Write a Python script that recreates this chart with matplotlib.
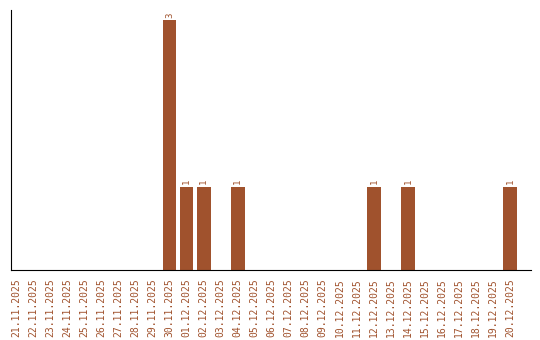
import matplotlib
matplotlib.use('Agg')
import matplotlib.pyplot as plt
import numpy as np

# Daily counts, 21.11.2025 .. 20.12.2025
dates = ['21.11.2025', '22.11.2025', '23.11.2025', '24.11.2025', '25.11.2025',
         '26.11.2025', '27.11.2025', '28.11.2025', '29.11.2025', '30.11.2025',
         '01.12.2025', '02.12.2025', '03.12.2025', '04.12.2025', '05.12.2025',
         '06.12.2025', '07.12.2025', '08.12.2025', '09.12.2025', '10.12.2025',
         '11.12.2025', '12.12.2025', '13.12.2025', '14.12.2025', '15.12.2025',
         '16.12.2025', '17.12.2025', '18.12.2025', '19.12.2025', '20.12.2025']
counts = [0, 0, 0, 0, 0, 0, 0, 0, 0, 3,
          1, 1, 0, 1, 0, 0, 0, 0, 0, 0,
          0, 1, 0, 1, 0, 0, 0, 0, 0, 1]

BROWN = '#A0522D'

fig = plt.figure(figsize=(5.4, 3.4), dpi=100)
ax = fig.add_axes([10.5 / 540, 70 / 340, 520 / 540, 260 / 340])

xs = np.arange(len(dates))
ax.bar(xs, counts, width=0.8, color=BROWN)

# value labels above non-empty bars
for x, c in zip(xs, counts):
    if c > 0:
        ax.text(x, c + 0.03, str(c), rotation=90, ha='center', va='bottom',
                fontsize=6.5, color=BROWN, family='DejaVu Sans Mono')

ax.set_xlim(-0.35, 30.2)
ax.set_ylim(0, 3.12)
ax.set_xticks(xs)
ax.set_xticklabels(dates, rotation=90, fontsize=7, color=BROWN,
                   family='DejaVu Sans Mono')
ax.tick_params(axis='x', length=0, pad=6)
ax.set_yticks([])
ax.spines['top'].set_visible(False)
ax.spines['right'].set_visible(False)

fig.savefig('out.png', dpi=100)
